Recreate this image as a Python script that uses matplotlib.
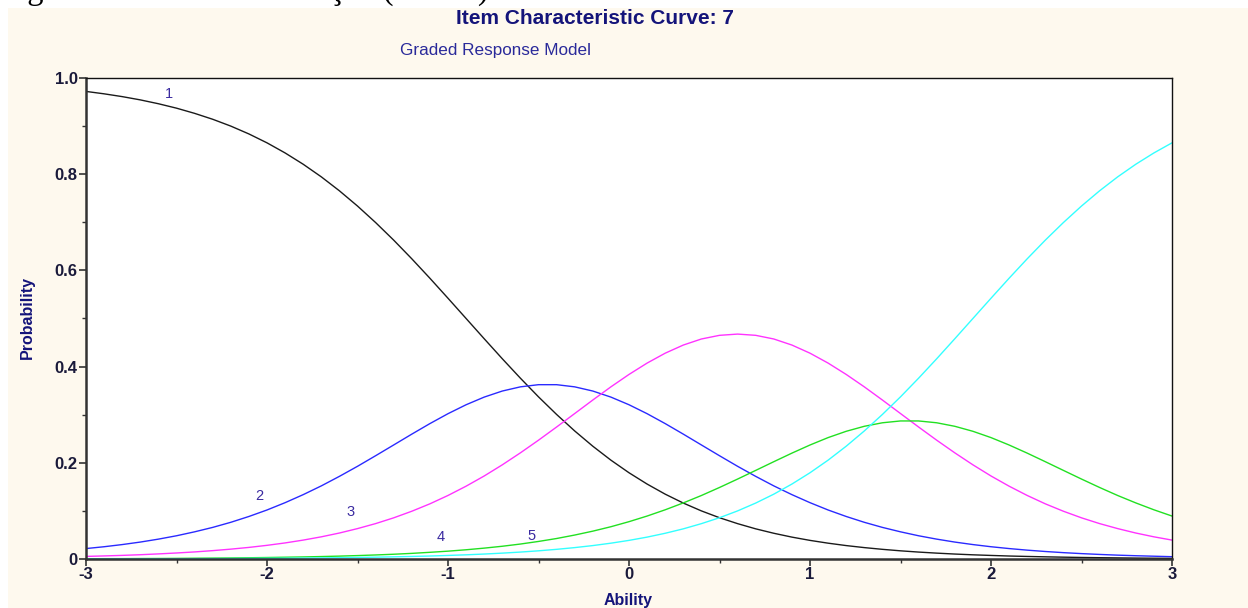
import matplotlib
matplotlib.use("Agg")
import matplotlib.pyplot as plt
from matplotlib.patches import Rectangle
from matplotlib.ticker import MultipleLocator, FixedLocator

# Ability grid (theta)
theta = [-3.0, -2.9, -2.8, -2.7, -2.6, -2.5, -2.4, -2.3, -2.2, -2.1,
         -2.0, -1.9, -1.8, -1.7, -1.6, -1.5, -1.4, -1.3, -1.2, -1.1,
         -1.0, -0.9, -0.8, -0.7, -0.6, -0.5, -0.4, -0.3, -0.2, -0.1,
         0.0, 0.1, 0.2, 0.3, 0.4, 0.5, 0.6, 0.7, 0.8, 0.9,
         1.0, 1.1, 1.2, 1.3, 1.4, 1.5, 1.6, 1.7, 1.8, 1.9,
         2.0, 2.1, 2.2, 2.3, 2.4, 2.5, 2.6, 2.7, 2.8, 2.9, 3.0]

# Category response probabilities
cat1 = [.9721, .9671, .9613, .9545, .9465, .9373, .9265, .9142, .9000, .8837,
        .8652, .8442, .8207, .7945, .7655, .7338, .6995, .6629, .6241, .5837,
        .5421, .5000, .4579, .4163, .3759, .3371, .3005, .2662, .2345, .2055,
        .1793, .1558, .1348, .1163, .1000, .0858, .0735, .0627, .0535, .0455,
        .0387, .0329, .0279, .0237, .0201, .0170, .0144, .0122, .0103, .0087,
        .0074, .0062, .0053, .0045, .0038, .0032, .0027, .0023, .0019, .0016, .0014]
cat2 = [.0217, .0255, .0300, .0352, .0413, .0483, .0565, .0657, .0763, .0884,
        .1019, .1171, .1338, .1520, .1718, .1927, .2147, .2371, .2596, .2815,
        .3021, .3207, .3366, .3492, .3579, .3624, .3624, .3579, .3492, .3366,
        .3207, .3021, .2815, .2596, .2371, .2147, .1927, .1718, .1520, .1338,
        .1171, .1019, .0884, .0763, .0657, .0565, .0483, .0413, .0352, .0300,
        .0255, .0217, .0184, .0156, .0132, .0112, .0095, .0080, .0068, .0058, .0048]
cat3 = [.0054, .0064, .0075, .0089, .0106, .0125, .0147, .0174, .0205, .0241,
        .0284, .0334, .0393, .0461, .0540, .0632, .0736, .0856, .0993, .1147,
        .1321, .1514, .1726, .1958, .2207, .2470, .2744, .3024, .3305, .3579,
        .3837, .4073, .4279, .4448, .4574, .4650, .4676, .4650, .4574, .4448,
        .4279, .4073, .3837, .3579, .3305, .3024, .2744, .2470, .2207, .1958,
        .1726, .1514, .1321, .1147, .0993, .0856, .0736, .0632, .0540, .0461, .0393]
cat4 = [.0005, .0007, .0008, .0010, .0011, .0013, .0016, .0019, .0022, .0026,
        .0031, .0037, .0043, .0051, .0060, .0071, .0084, .0099, .0117, .0139,
        .0163, .0192, .0226, .0265, .0311, .0365, .0426, .0498, .0579, .0671,
        .0776, .0893, .1023, .1166, .1320, .1487, .1662, .1842, .2023, .2201,
        .2370, .2524, .2655, .2759, .2832, .2870, .2870, .2832, .2759, .2655,
        .2524, .2370, .2201, .2023, .1842, .1662, .1487, .1320, .1166, .1023, .0893]
cat5 = [.0003, .0003, .0004, .0004, .0005, .0006, .0007, .0008, .0010, .0012,
        .0014, .0016, .0019, .0023, .0027, .0032, .0038, .0045, .0053, .0062,
        .0074, .0087, .0103, .0122, .0144, .0170, .0201, .0237, .0279, .0329,
        .0387, .0455, .0535, .0627, .0735, .0858, .1000, .1163, .1348, .1558,
        .1793, .2055, .2345, .2662, .3005, .3371, .3759, .4163, .4579, .5000,
        .5421, .5837, .6241, .6629, .6995, .7338, .7655, .7945, .8207, .8442, .8652]

series = [cat1, cat2, cat3, cat4, cat5]
series_colors = ["#1a1a1a", "#2a2aff", "#ff33ff", "#22e022", "#33ffff"]

# Curve label annotations
curve_labels = ["1", "2", "3", "4", "5"]
label_x = [-2.54, -2.04, -1.54, -1.04, -0.54]
label_y = [0.967, 0.131, 0.098, 0.046, 0.048]

x_ticks = [-3, -2, -1, 0, 1, 2, 3]
x_ticklabels = ["-3", "-2", "-1", "0", "1", "2", "3"]
y_ticks = [0.0, 0.2, 0.4, 0.6, 0.8, 1.0]
y_ticklabels = ["0", "0.2", "0.4", "0.6", "0.8", "1.0"]

W, H = 1248, 608
fig = plt.figure(figsize=(W / 100, H / 100), dpi=100)
fig.patch.set_facecolor("white")

# beige panel
fig.patches.append(Rectangle((8 / W, 0), 1 - 8 / W, (H - 8) / H,
                             transform=fig.transFigure, facecolor="#fef9ee",
                             edgecolor="none", zorder=-10))

# caption cut off at top (as in the reference)
fig.text(0.0, 1 + 1.0 / H, "Figura 9 – CCI: Manutenção (Item 7)",
         fontsize=23.5, family="Liberation Serif", color="black",
         ha="left", va="baseline", zorder=5)

navy = "#14147a"
fig.text(595 / W, 1 - 18 / H, "Item Characteristic Curve: 7", fontsize=15,
         fontweight="bold", family="Liberation Sans", color=navy,
         ha="center", va="center")
fig.text(495 / W, 1 - 50 / H, "Graded Response Model", fontsize=12.3,
         family="Liberation Sans", color="#2a2a9a", ha="center", va="center")

ax = fig.add_axes([86 / W, 1 - 559 / H, (1172 - 86) / W, (559 - 78) / H])
ax.set_facecolor("white")
for s, c in zip(series, series_colors):
    ax.plot(theta, s, color=c, lw=1.0, solid_joinstyle="round")

for t, lx, ly in zip(curve_labels, label_x, label_y):
    ax.text(lx, ly, t, fontsize=10.5, family="Liberation Sans",
            color="#3a2aa0", ha="center", va="center")

ax.set_xlim(-3, 3)
ax.set_ylim(0, 1)
ax.xaxis.set_major_locator(FixedLocator(x_ticks))
ax.set_xticklabels(x_ticklabels)
ax.xaxis.set_minor_locator(MultipleLocator(0.5))
ax.yaxis.set_major_locator(FixedLocator(y_ticks))
ax.set_yticklabels(y_ticklabels)
ax.yaxis.set_minor_locator(MultipleLocator(0.1))

tick_color = "#1a1a3a"
ax.tick_params(axis="both", which="major", length=5, width=1.2,
               color="#333333", labelsize=12, labelcolor=tick_color, pad=1)
ax.tick_params(axis="both", which="minor", length=3, width=1.0, color="#333333")
for lab in ax.get_xticklabels() + ax.get_yticklabels():
    lab.set_fontweight("bold")
    lab.set_family("Liberation Sans")

for side in ["left", "bottom"]:
    ax.spines[side].set_linewidth(1.8)
    ax.spines[side].set_color("#333333")
for side in ["top", "right"]:
    ax.spines[side].set_linewidth(1.0)
    ax.spines[side].set_color("#111111")

fig.text(27 / W, 1 - 317 / H, "Probability", rotation=90, fontsize=11.5,
         fontweight="bold", family="Liberation Sans", color=navy,
         ha="center", va="center")
fig.text(628 / W, 1 - 600 / H, "Ability", fontsize=11.5, fontweight="bold",
         family="Liberation Sans", color=navy, ha="center", va="center")

fig.savefig("out.png", dpi=100, facecolor=fig.get_facecolor())
